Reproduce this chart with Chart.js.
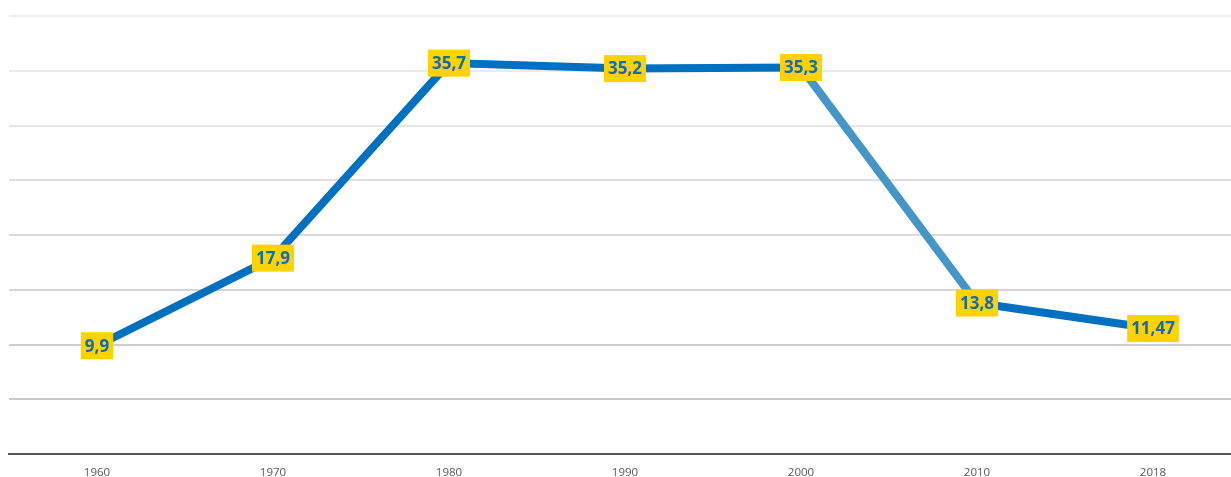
<!DOCTYPE html>
<html>
<head>
<meta charset="utf-8">
<script src="https://cdn.jsdelivr.net/npm/chart.js@4/dist/chart.umd.min.js"></script>
<style>
    html, body { margin: 0; padding: 0; background: #ffffff; overflow: hidden; }
    #wrap { width: 1241px; height: 477px; }
</style>
</head>
<body>
<div id="wrap"><canvas id="mainChart"></canvas></div>
<script>
// dane z wykresu
const years = ["1960", "1970", "1980", "1990", "2000", "2010", "2018"];
const values = [9.9, 17.9, 35.7, 35.2, 35.3, 13.8, 11.47];
const valueLabels = ["9,9", "17,9", "35,7", "35,2", "35,3", "13,8", "11,47"];

const lineColor = "#0070c0";
const lightSegment = "#4596c6";   // odcinek 2000-2010 jest jaśniejszy

// etykiety w żółtych ramkach
const boxLabels = {
    id: "boxLabels",
    afterDatasetsDraw(chart) {
        const ctx = chart.ctx;
        const meta = chart.getDatasetMeta(0);
        ctx.save();
        ctx.font = "bold 17px 'Open Sans', 'Noto Sans', sans-serif";
        ctx.textAlign = "center";
        ctx.textBaseline = "middle";
        meta.data.forEach(function (pt, i) {
            const txt = valueLabels[i];
            const w = ctx.measureText(txt).width + 8;
            const h = 27;
            ctx.fillStyle = "#ffd200";
            ctx.fillRect(pt.x - w / 2, pt.y - h / 2, w, h);
            ctx.fillStyle = "#0b6cb8";
            ctx.fillText(txt, pt.x, pt.y + 1);
        });
        ctx.restore();
    }
};

new Chart(document.getElementById("mainChart"), {
    type: "line",
    data: {
        labels: years,
        datasets: [{
            data: values,
            borderColor: lineColor,
            borderWidth: 8,
            pointRadius: 0,
            tension: 0,
            segment: {
                borderColor: ctx => ctx.p0DataIndex === 4 ? lightSegment : lineColor
            }
        }]
    },
    options: {
        responsive: true,
        maintainAspectRatio: false,
        animation: false,
        layout: { padding: { left: 9, top: 16, right: 0, bottom: -7 } },
        plugins: {
            legend: { display: false },
            tooltip: { enabled: false }
        },
        scales: {
            x: {
                offset: true,
                grid: { display: false },
                border: { display: true, color: "#595959", width: 2 },
                ticks: {
                    color: "#595959",
                    font: { size: 11.5, family: "'Open Sans', sans-serif" },
                    padding: 4
                }
            },
            y: {
                min: 0,
                max: 40,
                ticks: { display: false, stepSize: 5 },
                border: { display: false },
                grid: {
                    drawTicks: false,
                    lineWidth: 2,
                    color: ctx => {
                        const v = ctx.tick ? ctx.tick.value : 0;
                        const c = Math.round(196 + (v / 40) * 44);
                        return "rgb(" + c + "," + c + "," + c + ")";
                    }
                }
            }
        }
    },
    plugins: [boxLabels]
});
</script>
</body>
</html>
